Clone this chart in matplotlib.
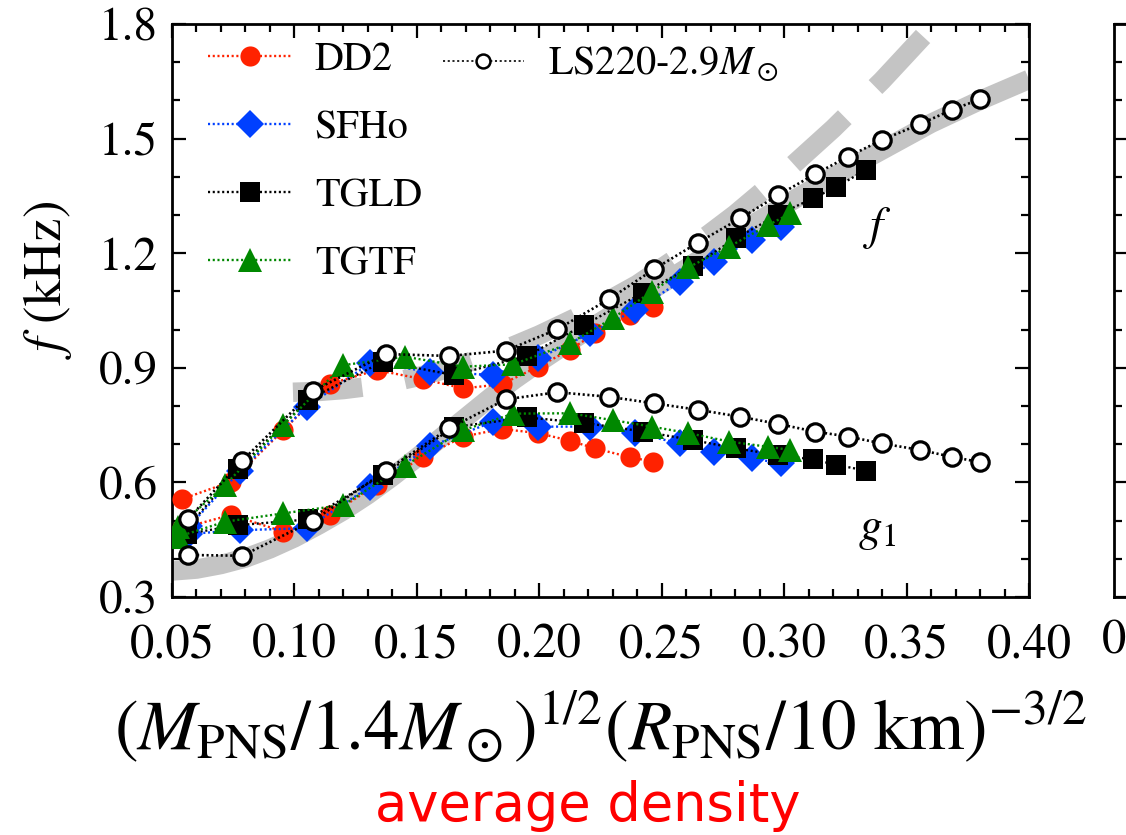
import numpy as np
import matplotlib.pyplot as plt
from matplotlib.lines import Line2D
from matplotlib.ticker import MultipleLocator

plt.rcParams['font.family'] = 'STIXGeneral'
plt.rcParams['mathtext.fontset'] = 'stix'
plt.rcParams['lines.scale_dashes'] = False

# ---- data (x = average density, y = frequency in kHz)
# each EOS has two branches: "up" starts low-ish and becomes f, "lo" becomes g1
dd2_x  = [0.054, 0.0741, 0.0955, 0.1145, 0.1336, 0.1526, 0.169, 0.1846, 0.1996, 0.2125, 0.2228, 0.237, 0.2466]
dd2_up = [0.556, 0.602, 0.737, 0.858, 0.894, 0.870, 0.846, 0.857, 0.903, 0.947, 0.990, 1.038, 1.060]
dd2_lo = [0.480, 0.515, 0.471, 0.515, 0.593, 0.667, 0.720, 0.740, 0.729, 0.709, 0.689, 0.666, 0.654]

sfho_x  = [0.057, 0.0778, 0.105, 0.1309, 0.1554, 0.1812, 0.1996, 0.2207, 0.2391, 0.2575, 0.2715, 0.2867, 0.2987]
sfho_up = [0.485, 0.630, 0.798, 0.912, 0.890, 0.881, 0.925, 0.990, 1.051, 1.125, 1.178, 1.235, 1.269]
sfho_lo = [0.465, 0.475, 0.480, 0.589, 0.694, 0.759, 0.746, 0.746, 0.729, 0.702, 0.680, 0.663, 0.650]

tgld_x  = [0.056, 0.0768, 0.1055, 0.1361, 0.1652, 0.1949, 0.2183, 0.2425, 0.2626, 0.2803, 0.2973, 0.3119, 0.3212, 0.3334]
tgld_up = [0.480, 0.634, 0.816, 0.916, 0.881, 0.931, 1.012, 1.097, 1.166, 1.239, 1.300, 1.344, 1.373, 1.418]
tgld_lo = [0.465, 0.488, 0.503, 0.620, 0.745, 0.770, 0.756, 0.733, 0.711, 0.689, 0.672, 0.660, 0.646, 0.631]

tgtf_x  = [0.0526, 0.0716, 0.0955, 0.120, 0.1452, 0.169, 0.1894, 0.2125, 0.230, 0.2459, 0.2609, 0.2775, 0.2936, 0.3025]
tgtf_up = [0.484, 0.593, 0.750, 0.907, 0.929, 0.903, 0.909, 0.964, 1.030, 1.099, 1.163, 1.217, 1.274, 1.304]
tgtf_lo = [0.458, 0.497, 0.519, 0.541, 0.644, 0.737, 0.780, 0.781, 0.763, 0.746, 0.729, 0.707, 0.693, 0.685]

ls_x  = [0.0564, 0.0787, 0.1077, 0.1374, 0.1633, 0.1864, 0.2074, 0.2286, 0.2468, 0.2649, 0.2820, 0.2976,
         0.3126, 0.3262, 0.3398, 0.3555, 0.3684, 0.380]
ls_up = [0.503, 0.657, 0.840, 0.936, 0.931, 0.945, 1.001, 1.080, 1.158, 1.228, 1.291, 1.352,
         1.407, 1.453, 1.496, 1.538, 1.575, 1.603]
ls_lo = [0.410, 0.408, 0.500, 0.631, 0.742, 0.8175, 0.836, 0.824, 0.807, 0.790, 0.772, 0.753,
         0.733, 0.720, 0.702, 0.685, 0.667, 0.653]

# gray guide curves
fit_x = [0.050, 0.060, 0.070, 0.080, 0.090, 0.100, 0.110, 0.120, 0.130, 0.140, 0.150, 0.160, 0.170,
         0.180, 0.190, 0.200, 0.220, 0.240, 0.260, 0.280, 0.300, 0.320, 0.340, 0.360, 0.380, 0.400]
fit_y = [0.368, 0.373, 0.385, 0.402, 0.426, 0.455, 0.489, 0.526, 0.568, 0.615, 0.665, 0.718, 0.770,
         0.822, 0.870, 0.915, 1.000, 1.080, 1.160, 1.248, 1.325, 1.400, 1.470, 1.540, 1.600, 1.655]
dfit_x = [0.0994, 0.110, 0.120, 0.130, 0.140, 0.150, 0.160, 0.170, 0.180, 0.190, 0.200, 0.220,
          0.240, 0.260, 0.280, 0.300, 0.320, 0.340, 0.360, 0.370]
dfit_y = [0.836, 0.838, 0.843, 0.851, 0.862, 0.876, 0.893, 0.912, 0.934, 0.959, 0.986, 1.047,
          1.118, 1.205, 1.302, 1.410, 1.526, 1.652, 1.790, 1.862]

red, blue, green = '#ff2200', '#0040ff', '#008800'
dots = (0, (1.5, 1.9))

fig = plt.figure(figsize=(11.26, 8.35), dpi=100)
ax = fig.add_axes([172/1126, 1-597/835, (1029-172)/1126, (597-24)/835])

ax.plot(fit_x, fit_y, color='#c4c4c4', lw=14, solid_capstyle='butt', zorder=1)
ax.plot(dfit_x, dfit_y, color='#c4c4c4', lw=14, linestyle=(0, (50, 31)),
        dash_capstyle='butt', zorder=1)

series = [
    ('DD2',  dd2_x,  dd2_up,  dd2_lo,  red,   'o', 14.5),
    ('SFHo', sfho_x, sfho_up, sfho_lo, blue,  'D', 14.5),
    ('TGLD', tgld_x, tgld_up, tgld_lo, 'k',   's', 14),
    ('TGTF', tgtf_x, tgtf_up, tgtf_lo, green, '^', 17),
]
handles = []
for i, (name, x, up, lo, c, m, ms) in enumerate(series):
    h, = ax.plot(x, up, linestyle=dots, lw=1.7, color=c, marker=m, ms=ms, mec=c, mew=0,
                 label=name, zorder=3+i)
    ax.plot(x, lo, linestyle=dots, lw=1.7, color=c, marker=m, ms=ms, mec=c, mew=0, zorder=3+i)
    handles.append(h)

for yy in (ls_up, ls_lo):
    ax.plot(ls_x, yy, linestyle=dots, lw=1.9, color='k', marker='o', ms=12.5, mfc='white',
            mec='k', mew=2.3, zorder=8)

ax.set_xlim(0.05, 0.40)
ax.set_ylim(0.3, 1.8)
ax.set_xticks(np.arange(0.05, 0.401, 0.05))
ax.set_xticklabels(['%.2f' % v for v in np.arange(0.05, 0.401, 0.05)])
ax.set_yticks(np.arange(0.3, 1.801, 0.3))
ax.set_yticklabels(['%.1f' % v for v in np.arange(0.3, 1.801, 0.3)])
ax.xaxis.set_minor_locator(MultipleLocator(0.01))
ax.yaxis.set_minor_locator(MultipleLocator(0.1))
ax.tick_params(which='both', direction='in', top=True, right=True, width=1.6)
ax.tick_params(axis='x', labelsize=35, pad=19)
ax.tick_params(axis='y', labelsize=34, pad=10)
ax.tick_params(which='major', length=10)
ax.tick_params(which='minor', length=6)
for s in ax.spines.values():
    s.set_linewidth(2)

leg1 = ax.legend(handles=handles, loc='upper left', bbox_to_anchor=(208/1126, 1-42/835),
                 bbox_transform=fig.transFigure, frameon=False, fontsize=29, handlelength=2.1,
                 handletextpad=0.55, labelspacing=0.76, borderpad=0, borderaxespad=0, numpoints=1)
ax.add_artist(leg1)
h_ls = Line2D([], [], linestyle=dots, lw=1.2, color='k', marker='o', ms=10, mfc='white', mec='k', mew=1.8)
ax.legend(handles=[h_ls], labels=[r'LS220-2.9$M_\odot$'], loc='upper left',
          bbox_to_anchor=(443/1126, 1-45/835), bbox_transform=fig.transFigure, frameon=False,
          fontsize=29, handlelength=2.0, handletextpad=0.6, borderpad=0, borderaxespad=0)

ax.text(0.338, 1.266, r'$f$', fontsize=34, ha='center', va='center')
ax.text(0.338, 0.475, r'$g_1$', fontsize=34, ha='center', va='center')

fig.text(47/1126, 1-280/835, r'$f$ (kHz)', rotation=90, fontsize=38, ha='center', va='center')
fig.text(600/1126, 1-750/835, r'$(M_{\rm PNS}/1.4M_\odot)^{1/2}(R_{\rm PNS}/10\ {\rm km})^{-3/2}$',
         fontsize=51, ha='center', va='baseline')
fig.text(588/1126, 1-821/835, 'average density', color='red', fontsize=38,
         family='DejaVu Sans', ha='center', va='baseline')

# neighbouring panel, cut off at the right edge
ax2 = fig.add_axes([1114/1126, 1-597/835, (1029-172)/1126, (597-24)/835])
ax2.set_xlim(0.0353, 0.3853)
ax2.set_ylim(0.3, 1.8)
ax2.set_xticks([0.05])
ax2.set_yticks(np.arange(0.3, 1.801, 0.3))
ax2.yaxis.set_minor_locator(MultipleLocator(0.1))
ax2.tick_params(which='both', direction='in', top=True, right=True, width=1.6,
                labelleft=False, labelbottom=False)
ax2.tick_params(which='major', length=10)
ax2.tick_params(which='minor', length=6)
for s in ax2.spines.values():
    s.set_linewidth(2)
# first tick label of the neighbouring panel, only its leading digit is in view
fig.text(1102/1126, 1-597/835 - 23/835, '0', fontsize=35, ha='left', va='top')

fig.savefig('out.png', dpi=100)
